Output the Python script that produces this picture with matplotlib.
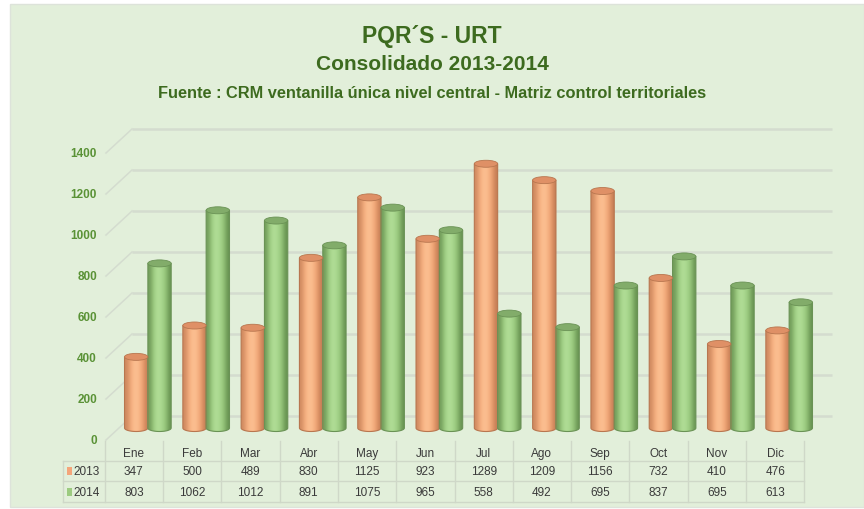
import numpy as np
import matplotlib
matplotlib.use('Agg')
import matplotlib.pyplot as plt
from matplotlib.patches import Rectangle, Ellipse, PathPatch
from matplotlib.path import Path
from matplotlib import font_manager

months = ['Ene', 'Feb', 'Mar', 'Abr', 'May', 'Jun', 'Jul', 'Ago', 'Sep', 'Oct', 'Nov', 'Dic']
vals_2013 = [347, 500, 489, 830, 1125, 923, 1289, 1209, 1156, 732, 410, 476]
vals_2014 = [803, 1062, 1012, 891, 1075, 965, 558, 492, 695, 837, 695, 613]
y_ticks = [0, 200, 400, 600, 800, 1000, 1200, 1400]

names = {f.name for f in font_manager.fontManager.ttflist}
narrow = 'Liberation Sans Narrow' if 'Liberation Sans Narrow' in names else 'Liberation Sans'
plt.rcParams['font.family'] = [narrow, 'DejaVu Sans']

BG = '#e2efda'
TITLE = '#3d6b1f'
TICK = '#5a9236'
GRID = '#d4dccf'
TXT = '#3a3a3a'
LINE = '#cfd8c8'

W, H = 864, 510
fig = plt.figure(figsize=(W / 100, H / 100), dpi=100, facecolor='white')
fig.patches.append(Rectangle((10 / W, 2 / H), 1 - 10 / W, (H - 7) / H,
                             transform=fig.transFigure, facecolor=BG,
                             edgecolor='#dde3da', lw=1.0, zorder=-10))

fig.text(0.5, 1 - 37 / H, 'PQR´S - URT', ha='center', va='center',
         fontsize=16.5, fontweight='bold', color=TITLE)
fig.text(0.5, 1 - 65 / H, 'Consolidado 2013-2014', ha='center', va='center',
         fontsize=15, fontweight='bold', color=TITLE)
fig.text(0.5, 1 - 93 / H,
         'Fuente : CRM ventanilla única nivel central - Matriz control territoriales',
         ha='center', va='center', fontsize=11.8, fontweight='bold', color=TITLE)

# layout in pixels
AX_L, AX_R = 60, 845
COL0, COLW = 104.7, 58.3
AX_T, AX_B = 100, 445
ZERO_Y, PXU = 429, 0.205   # pixel row of value 0, pixels per unit
DEPTH = 12                   # half depth of the 3d wall in pixels


def px_x(p):
    return (p - COL0) / COLW - 0.5


ax = fig.add_axes([AX_L / W, (H - AX_B) / H, (AX_R - AX_L) / W, (AX_B - AX_T) / H])
ax.set_xlim(px_x(AX_L), px_x(AX_R))
ax.set_ylim((ZERO_Y - AX_B) / PXU, (ZERO_Y - AX_T) / PXU)
ax.axis('off')
dv = DEPTH / PXU

# back wall grid and left side diagonals
for v in y_ticks:
    ax.plot([px_x(132), px_x(832)], [v + dv, v + dv], color=GRID, lw=1.8,
            zorder=1, solid_capstyle='butt')
    ax.plot([px_x(106), px_x(132)], [v - dv, v + dv], color=GRID, lw=1.1, zorder=1)
    ax.text(px_x(97), v - dv, str(v), ha='right', va='center', fontsize=8.5,
            fontweight='bold', color=TICK)


def cylinder(xc, v, w, cols, edge, top):
    eh = 7 / PXU
    t = np.linspace(np.pi, 2 * np.pi, 40)
    bx = xc + w / 2 * np.cos(t)
    by = eh / 2 * np.sin(t)
    verts = [(xc - w / 2, v)] + list(zip(bx, by)) + [(xc + w / 2, v), (xc - w / 2, v)]
    codes = [Path.MOVETO] + [Path.LINETO] * (len(verts) - 2) + [Path.CLOSEPOLY]
    side = PathPatch(Path(verts, codes), facecolor='none', edgecolor=edge, lw=0.8, zorder=3)
    ax.add_patch(side)
    grad = np.array([matplotlib.colors.to_rgb(c) for c in cols])[None, :, :]
    im = ax.imshow(grad, extent=[xc - w / 2, xc + w / 2, -eh, v], aspect='auto',
                   interpolation='bicubic', zorder=2)
    im.set_clip_path(side)
    ax.add_patch(Ellipse((xc, v), w, eh, facecolor=top, edgecolor=edge, lw=0.6, zorder=4))


orange = ['#cf8a60', '#f5ad7d', '#fcc193', '#fab98a', '#eca070', '#c47d55']
green = ['#729d5a', '#a0cf84', '#b3df99', '#a8d78d', '#92c277', '#679251']
bw = 0.40
shift = 14 / COLW
for i in range(len(months)):
    cylinder(i + shift - bw / 2, vals_2013[i], bw, orange, '#b8764f', '#df9066')
    cylinder(i + shift + bw / 2, vals_2014[i], bw, green, '#6a9255', '#82ac6a')

# data table
tab = fig.add_axes([AX_L / W, (H - 506) / H, (AX_R - AX_L) / W, 66 / H])
tab.set_xlim(px_x(AX_L), px_x(AX_R))
tab.set_ylim(506, 440)
tab.axis('off')
x_left = px_x(63)
for k in range(len(months) + 1):
    tab.plot([k - 0.5, k - 0.5], [442, 503], color=LINE, lw=1)
tab.plot([x_left, x_left], [462, 503], color=LINE, lw=1)
for yy in (462, 482, 503):
    tab.plot([x_left, len(months) - 0.5], [yy, yy], color=LINE, lw=1)

for i, m in enumerate(months):
    tab.text(i, 454, m, ha='center', va='center', fontsize=8.5, color=TXT)
    tab.text(i, 472, str(vals_2013[i]), ha='center', va='center', fontsize=8.5, color=TXT)
    tab.text(i, 493, str(vals_2014[i]), ha='center', va='center', fontsize=8.5, color=TXT)

for yy, lab, c in ((472, '2013', '#f4a57a'), (493, '2014', '#9ccb80')):
    tab.add_patch(Rectangle((px_x(67), yy - 4), 5 / COLW, 8, facecolor=c, edgecolor='none'))
    tab.text(px_x(73), yy, lab, ha='left', va='center', fontsize=8.5, color=TXT)

fig.savefig('out.png', dpi=100, facecolor=fig.get_facecolor())
